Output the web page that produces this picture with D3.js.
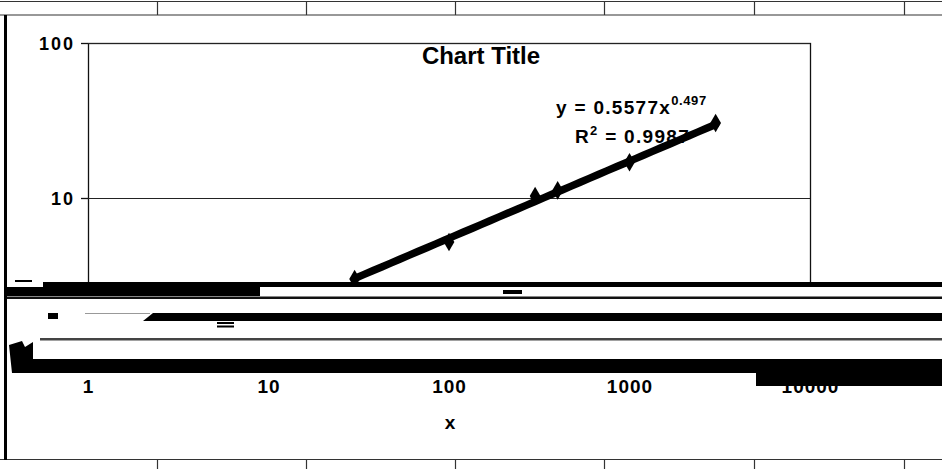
<!DOCTYPE html>
<html>
<head>
<meta charset="utf-8">
<script src="https://cdn.jsdelivr.net/npm/d3@7"></script>
<style>
  html, body { margin: 0; padding: 0; background: #fff; }
  svg { display: block; }
  text { font-family: "Liberation Sans", Arial, Helvetica, sans-serif; font-weight: bold; fill: #000; }
</style>
</head>
<body>
<svg id="chart" width="942" height="469"></svg>
<script>
// Measured samples
const xValues = [30, 100, 300, 400, 1000, 3000];
const yValues = [3.0, 5.2, 10.3, 11.2, 17.0, 30.5];

// Axis ticks and their labels
const xTicks = [1, 10, 100, 1000, 10000];
const xTickLabels = ["1", "10", "100", "1000", "10000"];
const yTicks = [1, 10, 100];
const yTickLabels = ["1", "10", "100"];

// Power-law fit y = a * x^b, with its goodness of fit
const fitA = 0.5577;
const fitB = 0.497;
const fitR2 = 0.9987;

const chartTitle = "Chart Title";
const xAxisTitle = "x";

const W = 942, H = 469;
const plot = { left: 88, right: 810, top: 43, bottom: 353 };
const FONT = "'Liberation Sans', Arial, Helvetica, sans-serif";

const svg = d3.select("#chart");
svg.append("rect").attr("width", W).attr("height", H).attr("fill", "#fff");

// worksheet cell borders above and below the chart object
const cellCols = [157, 306, 455, 604, 754, 904];
const sheet = svg.append("g").attr("stroke", "#333").attr("stroke-width", 1.2).attr("fill", "none");
sheet.append("line").attr("x1", 0).attr("x2", W).attr("y1", 1.5).attr("y2", 1.5);
sheet.append("line").attr("x1", 0).attr("x2", W).attr("y1", 15).attr("y2", 15);
sheet.append("line").attr("x1", 0).attr("x2", W).attr("y1", 459.5).attr("y2", 459.5);
cellCols.forEach(cx => {
  sheet.append("line").attr("x1", cx + 0.5).attr("x2", cx + 0.5).attr("y1", 1).attr("y2", 15);
  sheet.append("line").attr("x1", cx + 0.5).attr("x2", cx + 0.5).attr("y1", 459).attr("y2", H);
});

const x = d3.scaleLog().domain([1, 10000]).range([plot.left, plot.right]);
const y = d3.scaleLog().domain([1, 100]).range([plot.bottom, plot.top]);

// plot area frame and major gridlines
const g = svg.append("g");
g.append("rect")
  .attr("x", plot.left + 0.5).attr("y", plot.top + 0.5)
  .attr("width", plot.right - plot.left).attr("height", plot.bottom - plot.top)
  .attr("fill", "none").attr("stroke", "#111").attr("stroke-width", 1.3);
g.selectAll("line.grid").data(yTicks).join("line")
  .attr("class", "grid")
  .attr("x1", plot.left).attr("x2", plot.right)
  .attr("y1", d => y(d) + 0.5).attr("y2", d => y(d) + 0.5)
  .attr("stroke", "#222").attr("stroke-width", 1.1);

// axes
const yAxis = d3.axisLeft(y).tickValues(yTicks)
  .tickFormat((d, i) => yTickLabels[i]).tickSize(7).tickPadding(6);
const yg = svg.append("g").attr("transform", `translate(${plot.left},0)`).call(yAxis);
yg.select(".domain").remove();
yg.selectAll(".tick line").attr("stroke", "#111").attr("stroke-width", 1.3);
yg.selectAll(".tick text")
  .attr("font-size", 18).attr("letter-spacing", "2px").attr("dy", "0.36em")
  .style("font-family", FONT).style("font-weight", "bold").attr("fill", "#000");

const xAxis = d3.axisBottom(x).tickValues(xTicks)
  .tickFormat((d, i) => xTickLabels[i]).tickSize(7).tickPadding(20);
const xg = svg.append("g").attr("transform", `translate(0,${plot.bottom})`).call(xAxis);
xg.select(".domain").remove();
xg.selectAll(".tick line").attr("stroke", "#111").attr("stroke-width", 1.3);
xg.selectAll(".tick text")
  .attr("font-size", 19).attr("letter-spacing", "1px").attr("dy", "0.71em")
  .style("font-family", FONT).style("font-weight", "bold").attr("fill", "#000");

// titles
svg.append("text").attr("x", 481).attr("y", 64).attr("text-anchor", "middle")
  .attr("font-size", 24).text(chartTitle);
svg.append("text").attr("x", 450).attr("y", 429).attr("text-anchor", "middle")
  .attr("font-size", 19).text(xAxisTitle);

// trendline label
const eq = svg.append("text").attr("x", 556).attr("y", 114).attr("font-size", 19).attr("letter-spacing", "1.3px");
eq.append("tspan").text(`y =  ${fitA}x`);
eq.append("tspan").attr("dy", -9).attr("font-size", 13).attr("letter-spacing", "0.6px").text(fitB);
const r2 = svg.append("text").attr("x", 575).attr("y", 143).attr("font-size", 19).attr("letter-spacing", "1.3px");
r2.append("tspan").text("R");
r2.append("tspan").attr("dy", -8).attr("font-size", 13).text("2");
r2.append("tspan").attr("dy", 8).text(`  =  ${fitR2}`);

// power-law trendline across the sampled range
const fit = xv => fitA * Math.pow(xv, fitB);
const [xMin, xMax] = d3.extent(xValues);
const fitPts = d3.range(0, 41).map(i => {
  const xv = xMin * Math.pow(xMax / xMin, i / 40);
  return [xv, fit(xv)];
});
svg.append("path")
  .datum(fitPts)
  .attr("d", d3.line().x(d => x(d[0])).y(d => y(d[1])))
  .attr("fill", "none").attr("stroke", "#000").attr("stroke-width", 7.5)
  .attr("stroke-linecap", "round");

// data markers
const samples = xValues.map((v, i) => [v, yValues[i]]);
svg.selectAll("path.pt").data(samples).join("path")
  .attr("class", "pt")
  .attr("transform", d => `translate(${x(d[0])},${y(d[1])})`)
  .attr("d", d3.symbol(d3.symbolDiamond, 100))
  .attr("fill", "#000");

// heavy toner streaks wiping out the lower band of the sheet
const streaks = svg.append("g");
const block = (x0, y0, x1, y1, fill = "#000") =>
  streaks.append("rect").attr("x", x0).attr("y", y0).attr("width", x1 - x0).attr("height", y1 - y0).attr("fill", fill);
block(7, 282, W, 373, "#fff");
block(43, 282, W, 287);
block(7, 287, 260, 296);
block(7, 296.5, W, 299, "#111");
block(503, 290, 522, 294);
block(15, 280, 32, 282);
block(48, 313, 58, 319);
block(85, 313, 150, 314, "#999");
streaks.append("polygon").attr("points", `143,321 153,313 ${W},313 ${W},321`).attr("fill", "#000");
block(217, 322, 234, 324);
block(217, 325.5, 234, 327.5);
block(40, 338, W, 340.5, "#444");
streaks.append("polygon")
  .attr("points", "9,345 22,341 25,347 33,342 33,373 12,373")
  .attr("fill", "#000");
block(33, 359, W, 373);
block(756, 373, W, 386);

// chart object left frame
svg.append("rect").attr("x", 4).attr("y", 15).attr("width", 3).attr("height", 445).attr("fill", "#000");
</script>
</body>
</html>
